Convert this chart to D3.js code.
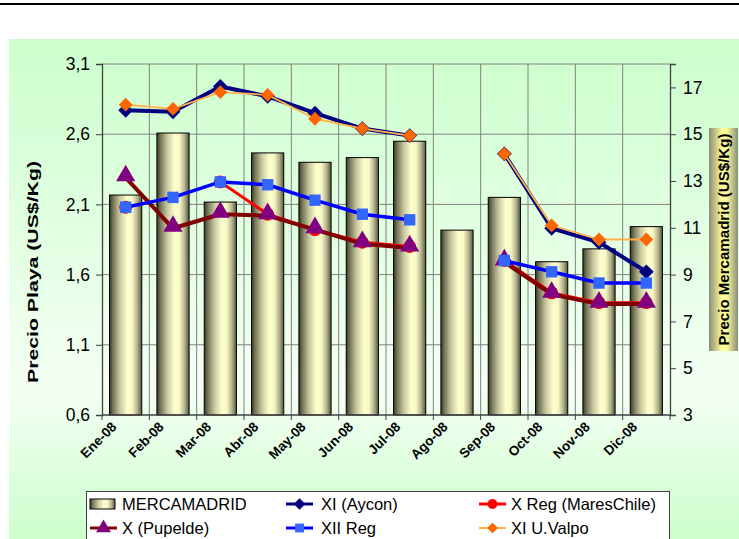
<!DOCTYPE html>
<html><head><meta charset="utf-8">
<script src="https://cdn.jsdelivr.net/npm/d3@7"></script>
<style>body{margin:0;background:#fff;font-family:Arial,"Liberation Sans",sans-serif}</style>
</head><body>
<svg id="c" width="739" height="539"></svg>
<script>
const months = ["Ene-08","Feb-08","Mar-08","Abr-08","May-08","Jun-08","Jul-08","Ago-08","Sep-08","Oct-08","Nov-08","Dic-08"];
const mercamadrid = [12.4,15.05,12.1,14.2,13.8,14.0,14.7,10.9,12.3,9.55,10.1,11.05];
const xiAycon = [2.77,2.76,2.94,2.87,2.75,2.64,2.59,null,2.46,1.93,1.83,1.62];
const xRegMares = [2.08,null,2.26,2.03,1.92,1.83,1.80,null,1.70,1.47,1.40,1.40];
const xPupelde = [2.29,1.93,2.03,2.02,1.92,1.82,1.79,null,1.69,1.46,1.39,1.39];
const xiiReg = [2.08,2.15,2.26,2.24,2.13,2.03,1.99,null,1.70,1.62,1.54,1.54];
const xiValpo = [2.81,2.78,2.90,2.88,2.71,2.64,2.59,null,2.46,1.95,1.85,1.85];
const leftTicks = [0.6,1.1,1.6,2.1,2.6,3.1];
const rightTicks = [3,5,7,9,11,13,15,17];

const svg = d3.select("#c");
const defs = svg.append("defs");
const bg = defs.append("linearGradient").attr("id","bg").attr("x1",0).attr("y1",0).attr("x2",0).attr("y2",1);
bg.append("stop").attr("offset","0%").attr("stop-color","#ccffcc");
bg.append("stop").attr("offset","70%").attr("stop-color","#f4fff4");
bg.append("stop").attr("offset","100%").attr("stop-color","#ccffcc");
const bar = defs.append("linearGradient").attr("id","bar").attr("x1",0).attr("y1",0).attr("x2",1).attr("y2",0);
[["0%","#3a3a28"],["12%","#7a7a5c"],["32%","#c8c8a0"],["55%","#ffffcc"],["70%","#f8f8c6"],["86%","#b4b48e"],["100%","#55553c"]]
  .forEach(s=>bar.append("stop").attr("offset",s[0]).attr("stop-color",s[1]));
const tb = defs.append("linearGradient").attr("id","tb").attr("x1",0).attr("y1",0).attr("x2",1).attr("y2",0);
[["0%","#8c8c78"],["45%","#ffff99"],["60%","#ffff99"],["100%","#8c8c78"]]
  .forEach(s=>tb.append("stop").attr("offset",s[0]).attr("stop-color",s[1]));

// title rule
svg.append("rect").attr("x",0).attr("y",3).attr("width",739).attr("height",2).attr("fill","#000");
// chart area
svg.append("rect").attr("x",9).attr("y",39).attr("width",730).attr("height",500).attr("fill","url(#bg)");

const L=102,R=670,T=64,B=415;
const x = d3.scaleBand().domain(months).range([L,R]).paddingInner(0.32).paddingOuter(0.16);
const step = x.step();
const yL = d3.scaleLinear().domain([0.6,3.1]).range([B,T]);
const yR = d3.scaleLinear().domain([3,18]).range([B,T]);

// gridlines
svg.append("g").selectAll("line").data(leftTicks.slice(1,-1)).join("line")
  .attr("x1",L).attr("x2",R).attr("y1",d=>yL(d)).attr("y2",d=>yL(d)).attr("stroke","#808080");
svg.append("g").selectAll("line").data(d3.range(1,months.length)).join("line")
  .attr("x1",i=>L+i*step).attr("x2",i=>L+i*step).attr("y1",T).attr("y2",B).attr("stroke","#808080");
svg.append("line").attr("x1",L).attr("x2",R).attr("y1",T).attr("y2",T).attr("stroke","#808080");

// bars
svg.append("g").selectAll("rect").data(mercamadrid).join("rect")
  .attr("x",(d,i)=>x(months[i])).attr("width",x.bandwidth())
  .attr("y",d=>yR(d)).attr("height",d=>B-yR(d))
  .attr("fill","url(#bar)").attr("stroke","#000").attr("stroke-width",1);

// axes
const axL = svg.append("g").attr("transform",`translate(${L},0)`)
  .call(d3.axisLeft(yL).tickValues(leftTicks).tickSize(6).tickPadding(6).tickFormat(d=>d3.format(".1f")(d).replace(".",",")));
const axR = svg.append("g").attr("transform",`translate(${R},0)`)
  .call(d3.axisRight(yR).tickValues(rightTicks).tickSize(6).tickPadding(7).tickFormat(d3.format("d")));
[axL,axR].forEach(a=>{a.select(".domain").attr("stroke","#404040").attr("stroke-width",1.3);
  a.selectAll(".tick line").attr("stroke","#404040");
  a.selectAll("text").attr("font-family","Arial,'Liberation Sans',sans-serif").attr("font-size",17.5).attr("fill","#000");});
svg.append("line").attr("x1",L).attr("x2",R).attr("y1",B).attr("y2",B).attr("stroke","#404040").attr("stroke-width",1.3);
svg.append("g").selectAll("line").data(d3.range(0,months.length+1)).join("line")
  .attr("x1",i=>L+i*step).attr("x2",i=>L+i*step).attr("y1",B).attr("y2",B+5).attr("stroke","#404040");
svg.append("g").selectAll("text").data(months).join("text")
  .attr("transform",d=>`translate(${x(d)+x.bandwidth()/2-15},${B+6}) rotate(-45)`)
  .attr("text-anchor","end").attr("dy","0.7em").attr("font-size",13.5).attr("font-weight","bold").text(d=>d);

// axis titles
svg.append("text").attr("transform","translate(38,272) rotate(-90)").attr("text-anchor","middle")
  .attr("font-size",15).attr("font-weight","bold").attr("textLength",222).attr("lengthAdjust","spacingAndGlyphs")
  .text("Precio Playa (US$/Kg)");
svg.append("rect").attr("x",709).attr("y",128).attr("width",29).attr("height",223).attr("fill","url(#tb)");
svg.append("text").attr("transform","translate(729,239.5) rotate(-90)").attr("text-anchor","middle")
  .attr("font-size",15).attr("font-weight","bold").attr("textLength",212).attr("lengthAdjust","spacingAndGlyphs")
  .text("Precio Mercamadrid (US$/Kg)");

// series
const series = [
  {name:"XI (Aycon)", data:xiAycon, line:"#000080", lw:4, mk:"diamond", fill:"#000080", size:110},
  {name:"X Reg (MaresChile)", data:xRegMares, line:"#ff0000", lw:3, mk:"circle", fill:"#ff0000", size:130},
  {name:"X  (Pupelde)", data:xPupelde, line:"#800000", lw:4, mk:"triangle", fill:"#800080", size:160},
  {name:"XII Reg", data:xiiReg, line:"#0000ff", lw:3.5, mk:"square", fill:"#3366ff", size:130},
  {name:"XI U.Valpo", data:xiValpo, line:"#ffb347", lw:1.8, mk:"diamond", fill:"#ff6600", size:95}
];
const sym = {diamond:d3.symbolSquare, circle:d3.symbolCircle, triangle:d3.symbolTriangle, square:d3.symbolSquare};
const rot = mk => mk==="diamond" ? " rotate(45)" : "";
const cx = i=>x(months[i])+x.bandwidth()/2;
series.forEach(s=>{
  const line = d3.line().defined(d=>d!=null).x((d,i)=>cx(i)).y(d=>yL(d));
  svg.append("path").datum(s.data).attr("d",line).attr("fill","none").attr("stroke",s.line).attr("stroke-width",s.lw).attr("stroke-linejoin","round");
  svg.append("g").selectAll("path").data(s.data.map((d,i)=>({d,i})).filter(o=>o.d!=null)).join("path")
    .attr("transform",o=>`translate(${cx(o.i)},${yL(o.d)+(s.mk==="triangle"?-2:0)})${rot(s.mk)}`)
    .attr("d",d3.symbol(sym[s.mk], s.size)).attr("fill",s.fill);
});

// legend
const lg = svg.append("g");
lg.append("rect").attr("x",86.5).attr("y",491.5).attr("width",583).attr("height",60).attr("fill","#fff").attr("stroke","#404040");
const legItems = [{name:"MERCAMADRID",bar:true}].concat(series);
legItems.forEach((it,k)=>{
  const col=k%3,row=Math.floor(k/3);
  const x0=[90,286,479][col], y0=[504,528][row];
  const tx=[122,321,511][col];
  if(it.bar){
    lg.append("rect").attr("x",x0).attr("y",y0-5).attr("width",25).attr("height",10).attr("fill","url(#bar)").attr("stroke","#000");
  } else {
    lg.append("line").attr("x1",x0).attr("x2",x0+27).attr("y1",y0).attr("y2",y0).attr("stroke",it.line).attr("stroke-width",it.lw>2?3:2);
    lg.append("path").attr("transform",`translate(${x0+13.5},${y0})${rot(it.mk)}`).attr("d",d3.symbol(sym[it.mk], it.size*0.6)).attr("fill",it.fill);
  }
  lg.append("text").attr("x",tx).attr("y",y0).attr("dy","0.36em").attr("font-size",16.5).text(it.name);
});
</script>
</body></html>
